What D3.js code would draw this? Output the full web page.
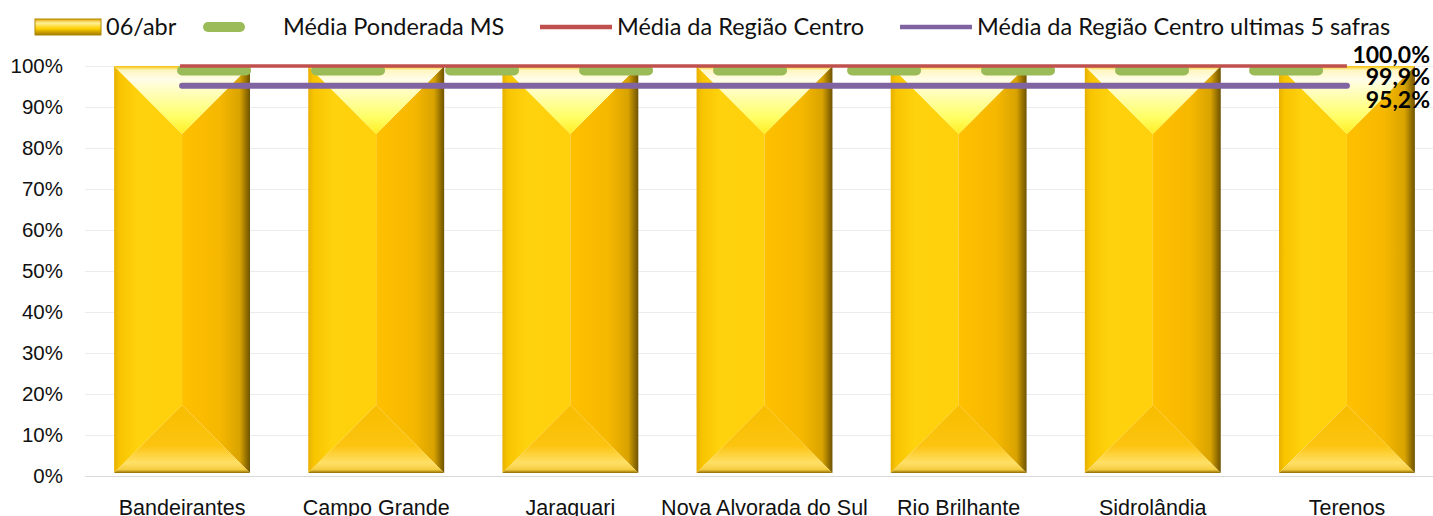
<!DOCTYPE html>
<meta charset="utf-8">
<script src="https://d3js.org/d3.v7.min.js"></script>
<style>
body { margin: 0; background: #fff; }
svg { display: block; font-family: Lato, "Open Sans", sans-serif; }
.grid line { stroke: #ececec; stroke-width: 1px; }
.grid path { display: none; }
.yaxis text { fill: #111; font-size: 20.5px; }
.xaxis text { fill: #111; font-size: 21.5px; }
.yaxis path, .yaxis line, .xaxis line { display: none; }
.xaxis path { stroke: #d9d9d9; }
.legend text { font-size: 23.5px; fill: #111; }
.lbl { font-size: 23px; font-weight: bold; fill: #000; }
</style>
<body></body>
<script>
// data
var categories = ['Bandeirantes', 'Campo Grande', 'Jaraguari', 'Nova Alvorada do Sul', 'Rio Brilhante', 'Sidrolândia', 'Terenos'];
var abr06 = [100, 100, 100, 100, 100, 100, 100];
var mediaMS = 99.9;
var mediaCentro = 100.0;
var mediaCentro5 = 95.2;
var yTicks = [0, 10, 20, 30, 40, 50, 60, 70, 80, 90, 100];
var seriesNames = ['06/abr', 'Média Ponderada MS', 'Média da Região Centro', 'Média da Região Centro ultimas 5 safras'];

var W = 1433, H = 516;
var margin = {top: 66, left: 85, bottom: 40};
var plotRight = 1444;

var svg = d3.select('body').append('svg').attr('width', W).attr('height', H);
var defs = svg.append('defs');

function grad(id, x2, y2, stops) {
  var g = defs.append('linearGradient').attr('id', id)
    .attr('x1', 0).attr('y1', 0).attr('x2', x2).attr('y2', y2);
  stops.forEach(function(s) {
    g.append('stop').attr('offset', s[0]).attr('stop-color', s[1]);
  });
}
grad('gTop', 0, 1, [[0, '#f2c200'], [0.06, '#fff6c0'], [0.2, '#fffde8'], [0.75, '#ffff66'], [1, '#ffee22']]);
grad('gLeft', 1, 0, [[0, '#e8b000'], [0.08, '#f8c400'], [0.35, '#ffd20e'], [1, '#ffd00c']]);
grad('gRight', 1, 0, [[0, '#ffc000'], [0.55, '#f6b800'], [0.85, '#d9a300'], [1, '#6e5300']]);
grad('gBottom', 0, 1, [[0, '#f8bd00'], [0.6, '#fcc410'], [0.85, '#ffe066'], [0.95, '#f5cd40'], [1, '#8c6c00']]);
grad('gLegend', 0, 1, [[0, '#e0a800'], [0.25, '#fff09a'], [0.6, '#ffd000'], [1, '#a07800']]);

var x = d3.scaleBand().domain(categories).range([margin.left, plotRight])
  .paddingInner(0.3).paddingOuter(0.15);
var y = d3.scaleLinear().domain([0, 100]).range([H - margin.bottom, margin.top]);

// gridlines
svg.append('g').attr('class', 'grid')
  .attr('transform', 'translate(' + margin.left + ',0)')
  .call(d3.axisLeft(y).tickValues(yTicks).tickSize(-(plotRight - margin.left)).tickFormat(''));

svg.append('g').attr('class', 'yaxis')
  .attr('transform', 'translate(' + (margin.left - 22) + ',0)')
  .call(d3.axisLeft(y).tickValues(yTicks).tickSize(0).tickPadding(0).tickFormat(function(d) { return d + '%'; }));

svg.append('g').attr('class', 'xaxis')
  .attr('transform', 'translate(0,' + y(0) + ')')
  .call(d3.axisBottom(x).tickSize(0).tickPadding(24).tickSizeOuter(0));

// beveled bars
var bars = svg.append('g').selectAll('g').data(abr06).enter().append('g');
bars.each(function(v, i) {
  var g = d3.select(this);
  var x0 = x(categories[i]), x1 = x0 + x.bandwidth(), cx = (x0 + x1) / 2;
  var y0 = y(v), y1 = y(0) - 3;
  var b = Math.min(x.bandwidth() / 2, (y1 - y0) / 2);
  function poly(pts, fill) {
    g.append('polygon').attr('points', pts.map(function(p) { return p.join(','); }).join(' '))
      .attr('fill', fill);
  }
  poly([[x0, y0], [cx, y0 + b], [cx, y1 - b], [x0, y1]], 'url(#gLeft)');
  poly([[x1, y0], [cx, y0 + b], [cx, y1 - b], [x1, y1]], 'url(#gRight)');
  poly([[x0, y0], [x1, y0], [cx, y0 + b]], 'url(#gTop)');
  poly([[x0, y1], [cx, y1 - b], [x1, y1]], 'url(#gBottom)');
});

// lines
var xFirst = x(categories[0]) + x.bandwidth() / 2;
var xLast = x(categories[categories.length - 1]) + x.bandwidth() / 2;

svg.append('line')
  .attr('x1', xFirst).attr('x2', xLast).attr('y1', y(mediaMS)).attr('y2', y(mediaMS))
  .attr('transform', 'translate(0,4)')
  .attr('stroke', '#9bbb59').attr('stroke-width', 10).attr('stroke-linecap', 'round')
  .attr('stroke-dasharray', '64 70');
svg.append('line')
  .attr('x1', xFirst - 2).attr('x2', xLast).attr('y1', y(mediaCentro)).attr('y2', y(mediaCentro))
  .attr('stroke', '#c0504d').attr('stroke-width', 3.5);
svg.append('line')
  .attr('x1', xFirst).attr('x2', xLast).attr('y1', y(mediaCentro5)).attr('y2', y(mediaCentro5))
  .attr('stroke', '#8064a2').attr('stroke-width', 6).attr('stroke-linecap', 'round');

// data labels
function fmt(v) { return v.toFixed(1).replace('.', ',') + '%'; }
[[mediaCentro, -3], [mediaMS, 19], [mediaCentro5, 22]].forEach(function(d) {
  svg.append('text').attr('class', 'lbl')
    .attr('x', 1430).attr('y', y(d[0]) + d[1])
    .attr('text-anchor', 'end').text(fmt(d[0]));
});

// legend
var lg = svg.append('g').attr('class', 'legend');
lg.append('rect').attr('x', 35).attr('y', 19).attr('width', 66).attr('height', 16).attr('fill', 'url(#gLegend)')
  .attr('stroke', '#b08600').attr('stroke-width', 1);
lg.append('text').attr('x', 106).attr('y', 35).text(seriesNames[0]);
lg.append('line').attr('x1', 208).attr('x2', 240).attr('y1', 27).attr('y2', 27)
  .attr('stroke', '#9bbb59').attr('stroke-width', 10).attr('stroke-linecap', 'round');
lg.append('text').attr('x', 283).attr('y', 35).text(seriesNames[1]);
lg.append('line').attr('x1', 540).attr('x2', 612).attr('y1', 27).attr('y2', 27)
  .attr('stroke', '#c0504d').attr('stroke-width', 4.5);
lg.append('text').attr('x', 617).attr('y', 35).text(seriesNames[2]);
lg.append('line').attr('x1', 900).attr('x2', 972).attr('y1', 27).attr('y2', 27)
  .attr('stroke', '#8064a2').attr('stroke-width', 4.5);
lg.append('text').attr('x', 977).attr('y', 35).text(seriesNames[3]);
</script>
